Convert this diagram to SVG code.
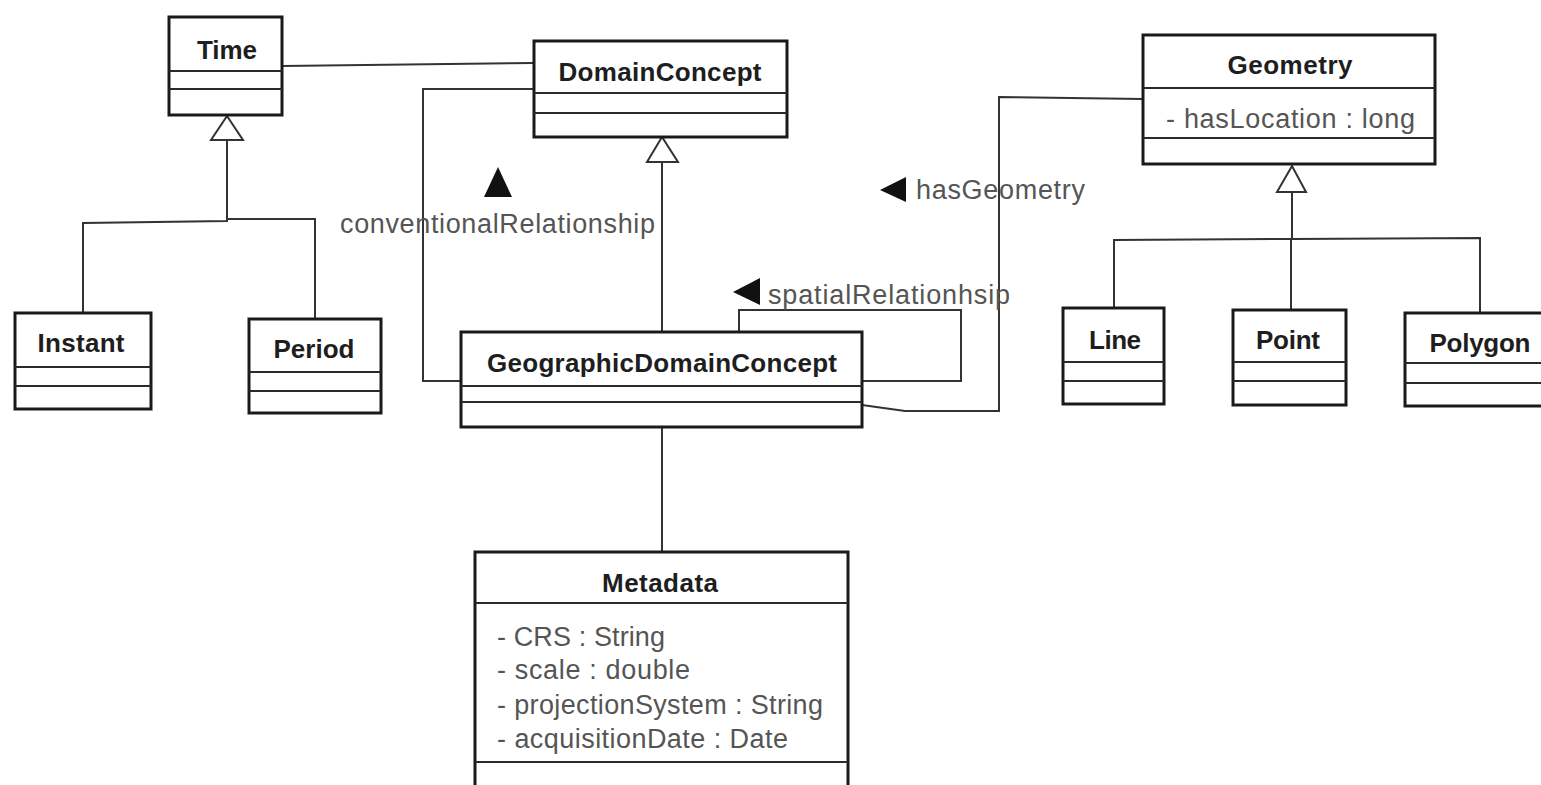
<svg xmlns="http://www.w3.org/2000/svg" width="1541" height="785" viewBox="0 0 1541 785">
<defs>
<style>
.box{fill:#fff;stroke:#1a1a1a;stroke-width:3}
.div{stroke:#2a2a2a;stroke-width:2}
.t{font-family:"Liberation Sans",Arial,sans-serif;font-weight:bold;font-size:26px;fill:#1e1e1e}
.a{font-family:"Liberation Sans",Arial,sans-serif;font-size:27px;fill:#555}
.c{fill:none;stroke:#333;stroke-width:2}
.gen{fill:#fff;stroke:#333;stroke-width:2}
.nav{fill:#111}
</style>
</defs>
<rect width="1541" height="785" fill="#fff"/>
<g id="connectors">
<path class="c" d="M282 66 L534 63"/>
<path class="c" d="M534 89 L423 89 L423 381 L461 381"/>
<path class="c" d="M739 332 L739 310 L961 310 L961 381 L862 381"/>
<path class="c" d="M862 405 L905 411 L999 411 L999 97 L1143 99"/>
<path class="c" d="M662 332 L662 162"/>
<polygon class="gen" points="662,137 647,162 678,162"/>
<path class="c" d="M662 427 L662 552"/>
<path class="c" d="M227 140 L227 221 L83 223 L83 313"/>
<path class="c" d="M227 219 L315 219 L315 319"/>
<polygon class="gen" points="227,116 211,140 243,140"/>
<path class="c" d="M1292 192 L1292 238"/>
<path class="c" d="M1114 308 L1114 240 L1292 239 L1480 238 L1480 313"/>
<path class="c" d="M1291 238 L1291 310"/>
<polygon class="gen" points="1292,166 1277,192 1306,192"/>
<polygon class="nav" points="498,167 484,197 512,197"/>
<text class="a" x="340" y="233" textLength="315">conventionalRelationship</text>
<polygon class="nav" points="733,292 760,278 760,305"/>
<text class="a" x="768" y="304" textLength="242">spatialRelationhsip</text>
<polygon class="nav" points="880,190 906,177 906,202"/>
<text class="a" x="916" y="199" textLength="169">hasGeometry</text>
</g>
<g id="Time">
<rect class="box" x="169" y="17" width="113" height="98"/>
<line class="div" x1="169" y1="71" x2="282" y2="71"/>
<line class="div" x1="169" y1="89" x2="282" y2="89"/>
<text class="t" x="227" y="59" text-anchor="middle" textLength="60">Time</text>
</g>
<g id="Instant">
<rect class="box" x="15" y="313" width="136" height="96"/>
<line class="div" x1="15" y1="367" x2="151" y2="367"/>
<line class="div" x1="15" y1="386" x2="151" y2="386"/>
<text class="t" x="81" y="352" text-anchor="middle" textLength="87">Instant</text>
</g>
<g id="Period">
<rect class="box" x="249" y="319" width="132" height="94"/>
<line class="div" x1="249" y1="372" x2="381" y2="372"/>
<line class="div" x1="249" y1="391" x2="381" y2="391"/>
<text class="t" x="314" y="358" text-anchor="middle" textLength="81">Period</text>
</g>
<g id="DomainConcept">
<rect class="box" x="534" y="41" width="253" height="96"/>
<line class="div" x1="534" y1="93" x2="787" y2="93"/>
<line class="div" x1="534" y1="113" x2="787" y2="113"/>
<text class="t" x="660" y="81" text-anchor="middle" textLength="203">DomainConcept</text>
</g>
<g id="GeographicDomainConcept">
<rect class="box" x="461" y="332" width="401" height="95"/>
<line class="div" x1="461" y1="386" x2="862" y2="386"/>
<line class="div" x1="461" y1="402" x2="862" y2="402"/>
<text class="t" x="662" y="372" text-anchor="middle" textLength="350">GeographicDomainConcept</text>
</g>
<g id="Geometry">
<rect class="box" x="1143" y="35" width="292" height="129"/>
<line class="div" x1="1143" y1="88" x2="1435" y2="88"/>
<line class="div" x1="1143" y1="138" x2="1435" y2="138"/>
<text class="t" x="1290" y="74" text-anchor="middle" textLength="125">Geometry</text>
<text class="a" x="1166" y="128" textLength="249">- hasLocation : long</text>
</g>
<g id="Line">
<rect class="box" x="1063" y="308" width="101" height="96"/>
<line class="div" x1="1063" y1="362" x2="1164" y2="362"/>
<line class="div" x1="1063" y1="381" x2="1164" y2="381"/>
<text class="t" x="1115" y="349" text-anchor="middle" textLength="52">Line</text>
</g>
<g id="Point">
<rect class="box" x="1233" y="310" width="113" height="95"/>
<line class="div" x1="1233" y1="362" x2="1346" y2="362"/>
<line class="div" x1="1233" y1="381" x2="1346" y2="381"/>
<text class="t" x="1288" y="349" text-anchor="middle" textLength="64">Point</text>
</g>
<g id="Polygon">
<rect class="box" x="1405" y="313" width="152" height="93"/>
<line class="div" x1="1405" y1="363" x2="1557" y2="363"/>
<line class="div" x1="1405" y1="383" x2="1557" y2="383"/>
<text class="t" x="1480" y="352" text-anchor="middle" textLength="101">Polygon</text>
</g>
<g id="Metadata">
<rect class="box" x="475" y="552" width="373" height="250"/>
<line class="div" x1="475" y1="603" x2="848" y2="603"/>
<line class="div" x1="475" y1="762" x2="848" y2="762"/>
<text class="t" x="660" y="592" text-anchor="middle" textLength="116">Metadata</text>
<text class="a" x="497" y="646" textLength="168">- CRS : String</text>
<text class="a" x="497" y="679" textLength="193">- scale : double</text>
<text class="a" x="497" y="714" textLength="326">- projectionSystem : String</text>
<text class="a" x="497" y="748" textLength="291">- acquisitionDate : Date</text>
</g>
</svg>
